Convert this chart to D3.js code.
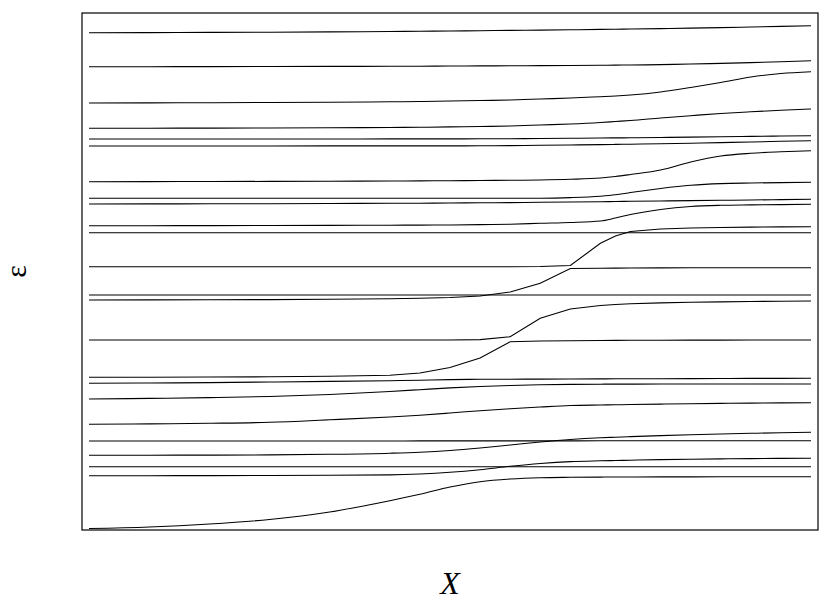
<!DOCTYPE html>
<meta charset="utf-8">
<style>
body { margin: 0; background: white; }
.level { fill: none; stroke: #000; stroke-width: 1.1px; }
.frame { fill: none; stroke: #000; stroke-width: 1.2px; }
.label { font-family: "Liberation Serif", "DejaVu Serif", serif; fill: #000; }
</style>
<body>
<script src="https://d3js.org/d3.v7.min.js"></script>
<script>
// parameter grid shared by all levels
var xGrid = [0, 2, 4, 6, 8, 10, 11, 12, 13, 14, 15, 16, 17, 17.5, 18, 19, 20, 21, 22, 23, 24];

// energy levels, top to bottom
var level01 = [495.8, 495.9, 496.1, 496.3, 496.6, 497.0, 497.2, 497.5, 497.8, 498.1, 498.4, 498.7, 499.1, 499.3, 499.5, 499.9, 500.4, 500.9, 501.5, 502.1, 502.8];
var level02 = [461.8, 461.8, 461.9, 462.0, 462.1, 462.2, 462.3, 462.5, 462.6, 462.7, 462.9, 463.0, 463.2, 463.4, 463.5, 463.9, 464.5, 465.1, 465.9, 466.8, 467.8];
var level03 = [425.5, 425.6, 425.8, 426.0, 426.3, 426.7, 427.0, 427.5, 428.0, 428.5, 429.5, 430.5, 431.8, 432.5, 433.5, 436.5, 441.0, 446.0, 451.5, 455.0, 456.8];
var level04 = [400.2, 400.3, 400.4, 400.5, 400.7, 401.0, 401.2, 401.6, 402.0, 402.5, 403.5, 404.5, 406.0, 407.0, 408.0, 410.5, 412.8, 415.0, 416.7, 418.2, 419.5];
var level05 = [389.5, 389.5, 389.5, 389.5, 389.5, 389.6, 389.6, 389.6, 389.7, 389.8, 390.0, 390.2, 390.5, 390.6, 390.7, 391.0, 391.4, 391.7, 392.1, 392.5, 392.8];
var level06 = [382.5, 382.5, 382.5, 382.5, 382.6, 382.6, 382.6, 382.6, 382.7, 382.9, 383.2, 383.5, 383.9, 384.1, 384.3, 384.8, 385.3, 385.9, 386.5, 387.2, 387.8];
var level07 = [346.8, 346.9, 347.0, 347.1, 347.3, 347.5, 347.6, 347.8, 348.0, 348.2, 348.5, 349.2, 350.5, 352.0, 354.0, 358.5, 366.5, 372.5, 375.2, 376.7, 377.8];
var level08 = [330.2, 330.2, 330.2, 330.2, 330.2, 330.2, 330.2, 330.2, 330.2, 330.2, 330.3, 330.9, 332.3, 333.7, 336.0, 340.0, 343.2, 344.9, 345.5, 345.9, 346.2];
var level09 = [324.5, 324.6, 324.7, 324.8, 325.0, 325.2, 325.3, 325.5, 325.7, 325.9, 326.2, 326.5, 326.8, 327.0, 327.2, 327.5, 327.9, 328.2, 328.5, 328.9, 329.2];
var level10 = [302.8, 302.8, 302.9, 303.0, 303.1, 303.3, 303.4, 303.5, 303.9, 304.3, 305.2, 306.0, 307.5, 310.5, 314.0, 319.0, 322.0, 323.2, 323.6, 323.9, 324.2];
var level11 = [295.8, 295.8, 295.8, 295.8, 295.8, 295.8, 295.8, 295.8, 295.8, 295.8, 295.8, 295.8, 295.8, 295.8, 295.8, 295.8, 295.8, 295.8, 295.8, 295.8, 295.8];
var level12 = [261.8, 261.8, 261.8, 261.8, 261.8, 261.8, 261.8, 261.8, 261.8, 261.8, 262.0, 263.0, 285.2, 292.5, 297.0, 299.5, 300.5, 301.0, 301.4, 301.6, 301.8];
var level13 = [233.5, 233.5, 233.5, 233.5, 233.5, 233.5, 233.5, 233.5, 233.5, 233.5, 233.5, 233.5, 233.5, 233.5, 233.5, 233.5, 233.5, 233.5, 233.5, 233.5, 233.5];
var level14 = [228.5, 228.6, 228.7, 228.9, 229.2, 229.7, 230.2, 231.0, 232.5, 236.5, 245.2, 260.0, 260.3, 260.4, 260.5, 260.6, 260.7, 260.7, 260.8, 260.8, 260.8];
var level15 = [188.5, 188.5, 188.5, 188.5, 188.5, 188.5, 188.5, 188.5, 188.9, 191.8, 210.2, 219.5, 223.0, 224.0, 224.7, 225.6, 226.2, 226.6, 227.0, 227.3, 227.5];
var level16 = [151.2, 151.3, 151.5, 151.7, 152.2, 153.3, 155.5, 161.0, 170.5, 186.8, 187.5, 187.8, 188.0, 188.1, 188.2, 188.3, 188.4, 188.4, 188.5, 188.5, 188.5];
var level17 = [145.2, 145.5, 145.9, 146.5, 147.1, 147.8, 148.3, 148.9, 149.2, 149.3, 149.4, 149.5, 149.6, 149.7, 149.7, 149.8, 149.9, 150.0, 150.1, 150.1, 150.2];
var level18 = [129.5, 130.1, 130.9, 132.0, 134.0, 137.0, 138.8, 140.6, 142.0, 143.0, 143.7, 144.1, 144.3, 144.4, 144.4, 144.5, 144.5, 144.5, 144.5, 144.5, 144.5];
var level19 = [104.2, 104.6, 105.2, 106.2, 108.7, 111.5, 113.3, 115.5, 117.8, 119.8, 121.5, 123.0, 123.5, 123.7, 124.0, 124.4, 124.8, 125.1, 125.4, 125.6, 125.8];
var level20 = [87.5, 87.5, 87.5, 87.5, 87.5, 87.5, 87.6, 87.6, 87.6, 87.6, 87.6, 87.6, 87.7, 87.7, 87.7, 87.7, 87.7, 87.8, 87.8, 87.8, 87.8];
var level21 = [73.2, 73.3, 73.4, 73.6, 74.2, 75.3, 76.3, 78.0, 80.5, 83.5, 86.5, 89.0, 90.7, 91.3, 91.9, 92.9, 93.8, 94.5, 95.2, 95.7, 96.2];
var level22 = [61.7, 61.7, 61.7, 61.7, 61.7, 61.7, 61.7, 61.7, 61.7, 61.7, 61.7, 61.7, 61.7, 61.7, 61.7, 61.7, 61.7, 61.7, 61.7, 61.7, 61.7];
var level23 = [52.8, 52.8, 52.9, 53.0, 53.2, 53.6, 54.5, 56.2, 58.8, 62.2, 65.0, 66.9, 67.7, 68.0, 68.3, 68.9, 69.3, 69.6, 69.9, 70.1, 70.2];
var level24 = [0.0, 1.5, 4.5, 9.0, 16.5, 27.8, 34.2, 41.5, 46.8, 49.5, 50.8, 51.2, 51.4, 51.5, 51.5, 51.6, 51.6, 51.7, 51.7, 51.8, 51.8];

var levels = [level01, level02, level03, level04, level05, level06, level07, level08,
              level09, level10, level11, level12, level13, level14, level15, level16,
              level17, level18, level19, level20, level21, level22, level23, level24];

// the two anticrossing pairs have sharp corners, keep them as straight segments
var sharpLevels = [level12, level14, level15, level16];

var width = 830, height = 607;
var margin = {top: 13, right: 12, bottom: 77, left: 82};
var w = width - margin.left - margin.right;
var h = height - margin.top - margin.bottom;

// small padding on x like the original, y limits set by hand
var xPad = 0.0097 * (d3.max(xGrid) - d3.min(xGrid));
var x = d3.scaleLinear()
    .domain([d3.min(xGrid) - xPad, d3.max(xGrid) + xPad])
    .range([0, w]);
var y = d3.scaleLinear()
    .domain([-1.5, 515.5])
    .range([h, 0]);

var smoothLine = d3.line()
    .curve(d3.curveMonotoneX)
    .x(function(d, i) { return x(xGrid[i]); })
    .y(function(d) { return y(d); });

var sharpLine = d3.line()
    .x(function(d, i) { return x(xGrid[i]); })
    .y(function(d) { return y(d); });

var svg = d3.select("body").append("svg")
    .attr("width", width)
    .attr("height", height);

var g = svg.append("g")
    .attr("transform", "translate(" + margin.left + "," + margin.top + ")");

g.selectAll("path.level")
    .data(levels)
  .enter().append("path")
    .attr("class", "level")
    .attr("d", function(d) {
      return sharpLevels.indexOf(d) >= 0 ? sharpLine(d) : smoothLine(d);
    });

g.append("rect")
    .attr("class", "frame")
    .attr("x", 0)
    .attr("y", 0)
    .attr("width", w)
    .attr("height", h);

// axis labels
svg.append("text")
    .attr("class", "label")
    .attr("x", margin.left + w / 2)
    .attr("y", 594)
    .attr("text-anchor", "middle")
    .style("font-size", "32px")
    .style("font-style", "italic")
    .text("X");

svg.append("text")
    .attr("class", "label")
    .attr("transform", "translate(26," + (margin.top + h / 2) + ") rotate(-90)")
    .attr("text-anchor", "middle")
    .style("font-size", "30px")
    .text("ε");
</script>
